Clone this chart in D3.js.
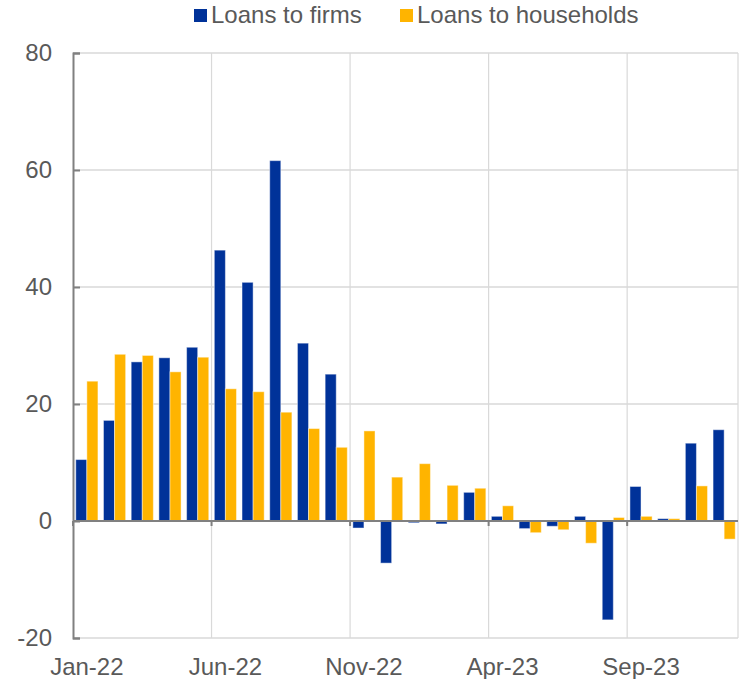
<!DOCTYPE html>
<html>
<head>
<meta charset="utf-8">
<script src="https://cdn.jsdelivr.net/npm/d3@7"></script>
<style>
  body { margin: 0; background: #fff; }
  text { font-family: "Liberation Sans", Arial, sans-serif; fill: #595959; }
</style>
</head>
<body>
<div id="chart-area"></div>
<script>
// data (monthly flows)
const months = ["Jan-22","Feb-22","Mar-22","Apr-22","May-22","Jun-22","Jul-22","Aug-22","Sep-22","Oct-22","Nov-22","Dec-22",
                "Jan-23","Feb-23","Mar-23","Apr-23","May-23","Jun-23","Jul-23","Aug-23","Sep-23","Oct-23","Nov-23","Dec-23"];
const firms = [10.5, 17.2, 27.2, 27.9, 29.7, 46.3, 40.8, 61.6, 30.4, 25.1, -1.2, -7.2,
               -0.3, -0.5, 4.9, 0.8, -1.3, -0.9, 0.8, -16.9, 5.9, 0.4, 13.3, 15.6];
const households = [23.9, 28.5, 28.3, 25.5, 28.0, 22.6, 22.1, 18.6, 15.8, 12.6, 15.4, 7.5,
                    9.8, 6.1, 5.6, 2.6, -2.0, -1.5, -3.8, 0.6, 0.8, 0.4, 6.0, -3.1];
const seriesNames = ["Loans to firms", "Loans to households"];
const seriesColors = ["#003299", "#ffb400"];
const yTicks = [-20, 0, 20, 40, 60, 80];
const xTickLabels = ["Jan-22","Jun-22","Nov-22","Apr-23","Sep-23"];

// layout
const W = 742, H = 679;
const plot = {LEFT: 73, RIGHT: 738, TOP: 53, BOTTOM: 638};
const fontSize = "24px";

const svg = d3.select("#chart-area").append("svg")
    .attr("width", W)
    .attr("height", H);

const x0 = d3.scaleBand().domain(months).range([plot.LEFT, plot.RIGHT]).padding(0);
const x1 = d3.scaleBand().domain([0, 1]).range([0, x0.bandwidth()]).paddingInner(0).paddingOuter(0.25);
const y = d3.scaleLinear().domain([-20, 80]).range([plot.BOTTOM, plot.TOP]);

// horizontal gridlines
svg.append("g").selectAll("line")
    .data(yTicks.filter(d => d !== 0))
    .enter().append("line")
    .attr("x1", plot.LEFT).attr("x2", plot.RIGHT)
    .attr("y1", d => y(d)).attr("y2", d => y(d))
    .attr("stroke", "#d9d9d9").attr("stroke-width", 1.5);

// vertical gridlines at every 5th month + right border
const vLines = xTickLabels.filter(d => d !== months[0]).map(d => x0(d)).concat([plot.RIGHT]);
svg.append("g").selectAll("line")
    .data(vLines)
    .enter().append("line")
    .attr("x1", d => d).attr("x2", d => d)
    .attr("y1", plot.TOP).attr("y2", plot.BOTTOM)
    .attr("stroke", "#d9d9d9").attr("stroke-width", 1.2);

// bars
const rows = months.map((m, i) => ({month: m, vals: [firms[i], households[i]]}));
svg.append("g").selectAll("g")
    .data(rows)
    .enter().append("g")
    .attr("transform", d => `translate(${x0(d.month)},0)`)
    .selectAll("rect")
    .data(d => d.vals.map((v, k) => ({k: k, v: v})))
    .enter().append("rect")
    .attr("x", d => x1(d.k))
    .attr("width", x1.bandwidth())
    .attr("y", d => y(Math.max(0, d.v)))
    .attr("height", d => Math.abs(y(d.v) - y(0)))
    .attr("fill", d => seriesColors[d.k])
    .attr("stroke", "rgba(255,255,255,0.45)")
    .attr("stroke-width", 1);

// zero line with small ticks below
svg.append("line")
    .attr("x1", plot.LEFT).attr("x2", plot.RIGHT)
    .attr("y1", y(0)).attr("y2", y(0))
    .attr("stroke", "#808080").attr("stroke-width", 2);
svg.append("g").selectAll("line")
    .data(xTickLabels.map(d => x0(d)))
    .enter().append("line")
    .attr("x1", d => d).attr("x2", d => d)
    .attr("y1", y(0)).attr("y2", y(0) + 5)
    .attr("stroke", "#808080").attr("stroke-width", 2);

// y axis
const yAxis = d3.axisLeft(y).tickValues(yTicks).tickSize(-7).tickPadding(21).tickFormat(d => String(d));
const gy = svg.append("g")
    .attr("transform", `translate(${plot.LEFT},0)`)
    .call(yAxis);
gy.select(".domain").attr("stroke", "#808080").attr("stroke-width", 2);
gy.selectAll(".tick line").attr("stroke", "#808080").attr("stroke-width", 2);
gy.selectAll("text").attr("font-size", fontSize).attr("fill", "#595959")
    .style("font-family", "'Liberation Sans', Arial, sans-serif");

// x axis labels (centred on months)
const xAxis = d3.axisBottom(x0).tickValues(xTickLabels).tickSize(0).tickPadding(20);
const gx = svg.append("g")
    .attr("transform", `translate(0,${plot.BOTTOM})`)
    .call(xAxis);
gx.select(".domain").remove();
gx.selectAll("text").attr("font-size", fontSize).attr("fill", "#595959")
    .style("font-family", "'Liberation Sans', Arial, sans-serif");

// legend
const legendX = [194, 400];
const legend = svg.append("g");
seriesNames.forEach((name, k) => {
    legend.append("rect")
        .attr("x", legendX[k]).attr("y", 9)
        .attr("width", 13).attr("height", 13)
        .attr("fill", seriesColors[k]);
    legend.append("text")
        .attr("x", legendX[k] + 17).attr("y", 23)
        .attr("font-size", fontSize)
        .text(name);
});
</script>
</body>
</html>
